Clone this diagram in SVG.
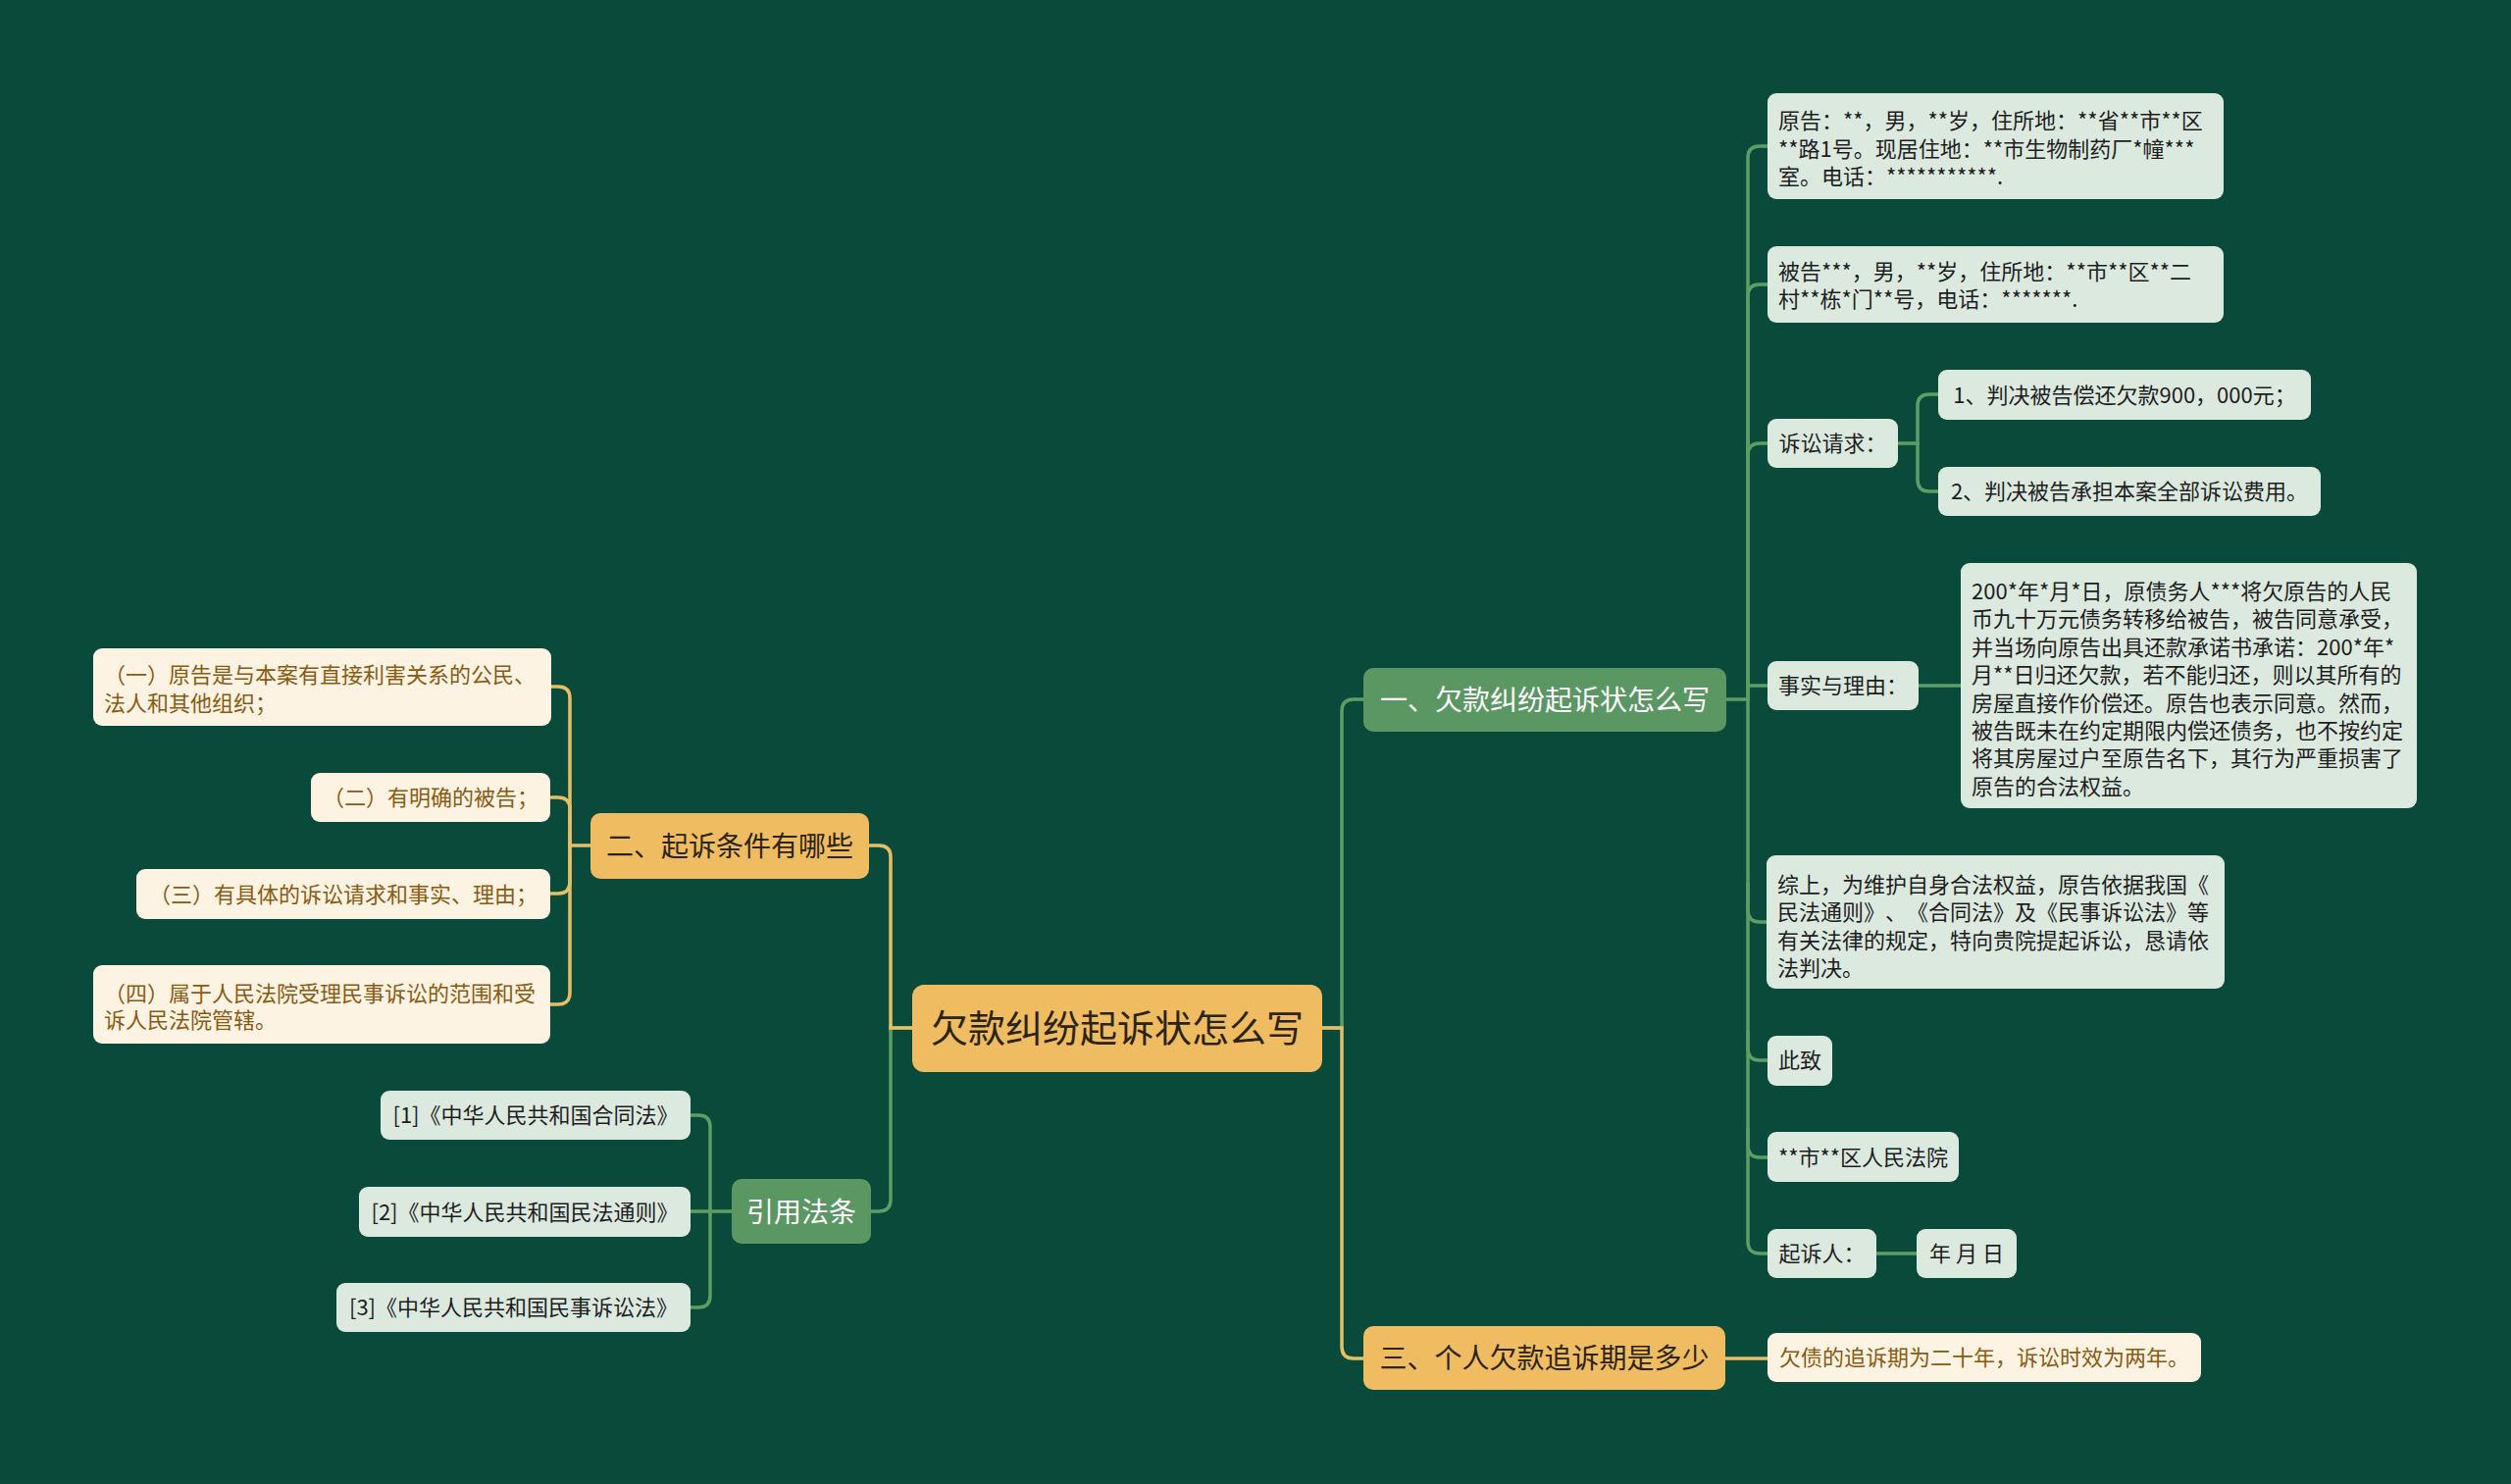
<svg xmlns="http://www.w3.org/2000/svg" width="2560" height="1513" viewBox="0 0 2560 1513">
<defs>
<style>
text{font-family:"Noto Sans CJK SC","Noto Sans",sans-serif;text-spacing-trim:space-all;}
.bg{fill:#094A3A;}
.root rect{fill:#EFBC62;}
.root text{fill:#2B2412;font-size:38px;text-anchor:middle;}
.bg1 rect{fill:#5A9763;}
.bg1 text{fill:#FFFFFF;font-size:28px;text-anchor:middle;}
.bo rect{fill:#EFBC62;}
.bo text{fill:#2B2412;font-size:28px;text-anchor:middle;}
.lf rect{fill:#DCE9DF;}
.lf text{fill:#1E1E1E;font-size:22px;}
.lc rect{fill:#FCF3E3;}
.lc text{fill:#8A5A12;font-size:22px;}
.c{text-anchor:middle;}
.cg path{fill:none;stroke:#5E9E66;stroke-width:3.5;}
.co path{fill:none;stroke:#E6BE66;stroke-width:3.5;}
</style>
</defs>
<rect class="bg" x="0" y="0" width="2560" height="1513"/>

<g id="connectors">
<g class="cg">
<path d="M1348 1048 H1368 V725 Q1368 713 1380 713 H1390"/>
<path d="M1760 713 H1782 V161 Q1782 149 1794 149 H1802"/>
<path d="M1782 700 V302 Q1782 290 1794 290 H1802"/>
<path d="M1782 464 Q1782 452 1794 452 H1802"/>
<path d="M1782 699 H1802"/>
<path d="M1782 700 V928 Q1782 940 1794 940 H1801"/>
<path d="M1782 900 V1069 Q1782 1081 1794 1081 H1802"/>
<path d="M1782 1050 V1168 Q1782 1180 1794 1180 H1802"/>
<path d="M1782 1150 V1266 Q1782 1278 1794 1278 H1802"/>
<path d="M1935 452 H1955 V414 Q1955 402 1967 402 H1976"/>
<path d="M1955 452 V489 Q1955 501 1967 501 H1976"/>
<path d="M1956 699 H1999"/>
<path d="M1913 1278 H1954"/>
<path d="M930 1048 H908 V1223 Q908 1235 896 1235 H888"/>
<path d="M746 1235 H724 V1149 Q724 1137 712 1137 H704"/>
<path d="M724 1235 H704"/>
<path d="M724 1235 V1321 Q724 1333 712 1333 H704"/>
</g>
<g class="co">
<path d="M1348 1048 H1368 V1373 Q1368 1385 1380 1385 H1390"/>
<path d="M1759 1385 H1802"/>
<path d="M930 1048 H908 V874 Q908 862 896 862 H886"/>
<path d="M602 862 H581 V712 Q581 700 569 700 H562"/>
<path d="M581 862 V825 Q581 813 569 813 H561"/>
<path d="M581 862 V899 Q581 911 569 911 H561"/>
<path d="M581 862 V1012 Q581 1024 569 1024 H561"/>
</g>
</g>

<g id="root" class="root"><rect x="930" y="1004" width="418" height="89" rx="12"/><text x="1139" y="1062">欠款纠纷起诉状怎么写</text></g>

<g id="b1" class="bg1"><rect x="1390" y="681" width="370" height="65" rx="10"/><text x="1575" y="724">一、欠款纠纷起诉状怎么写</text></g>
<g id="b2" class="bo"><rect x="602" y="829" width="284" height="67" rx="10"/><text x="744" y="873">二、起诉条件有哪些</text></g>
<g id="b3" class="bo"><rect x="1390" y="1352" width="369" height="65" rx="10"/><text x="1574.5" y="1395">三、个人欠款追诉期是多少</text></g>
<g id="b4" class="bg1"><rect x="746" y="1202" width="142" height="66" rx="10"/><text x="817" y="1246">引用法条</text></g>

<g id="n-plaintiff" class="lf"><rect x="1802" y="95" width="465" height="108" rx="9"/>
<text x="1813" y="131">原告：**，男，**岁，住所地：**省**市**区</text>
<text x="1813" y="159.5">**路1号。现居住地：**市生物制药厂*幢***</text>
<text x="1813" y="188">室。电话：***********.</text></g>
<g id="n-defendant" class="lf"><rect x="1802" y="251" width="465" height="78" rx="9"/>
<text x="1813" y="285">被告***，男，**岁，住所地：**市**区**二</text>
<text x="1813" y="313">村**栋*门**号，电话：*******.</text></g>
<g id="n-claim" class="lf"><rect x="1802" y="427" width="133" height="50" rx="9"/><text class="c" x="1868.5" y="460">诉讼请求：</text></g>
<g id="n-claim1" class="lf"><rect x="1976" y="377" width="380" height="51" rx="9"/><text class="c" x="2166" y="411">1、判决被告偿还欠款900，000元；</text></g>
<g id="n-claim2" class="lf"><rect x="1976" y="476" width="390" height="50" rx="9"/><text class="c" x="2171" y="509">2、判决被告承担本案全部诉讼费用。</text></g>
<g id="n-facts" class="lf"><rect x="1802" y="674" width="154" height="50" rx="9"/><text class="c" x="1879" y="707">事实与理由：</text></g>
<g id="n-facts-text" class="lf"><rect x="1999" y="574" width="465" height="250" rx="9"/>
<text x="2010" y="611">200*年*月*日，原债务人***将欠原告的人民</text>
<text x="2010" y="639.4">币九十万元债务转移给被告，被告同意承受，</text>
<text x="2010" y="667.8">并当场向原告出具还款承诺书承诺：200*年*</text>
<text x="2010" y="696.2">月**日归还欠款，若不能归还，则以其所有的</text>
<text x="2010" y="724.6">房屋直接作价偿还。原告也表示同意。然而，</text>
<text x="2010" y="753">被告既未在约定期限内偿还债务，也不按约定</text>
<text x="2010" y="781.4">将其房屋过户至原告名下，其行为严重损害了</text>
<text x="2010" y="809.8">原告的合法权益。</text></g>
<g id="n-summary" class="lf"><rect x="1801" y="872" width="467" height="136" rx="9"/>
<text x="1812" y="910">综上，为维护自身合法权益，原告依据我国《</text>
<text x="1812" y="938.4">民法通则》、《合同法》及《民事诉讼法》等</text>
<text x="1812" y="966.8">有关法律的规定，特向贵院提起诉讼，恳请依</text>
<text x="1812" y="995.2">法判决。</text></g>
<g id="n-cizhi" class="lf"><rect x="1802" y="1056" width="66" height="51" rx="9"/><text class="c" x="1835" y="1089">此致</text></g>
<g id="n-court" class="lf"><rect x="1802" y="1154" width="195" height="51" rx="9"/><text class="c" x="1899.5" y="1188">**市**区人民法院</text></g>
<g id="n-filer" class="lf"><rect x="1802" y="1253" width="111" height="50" rx="9"/><text class="c" x="1857.5" y="1286">起诉人：</text></g>
<g id="n-date" class="lf"><rect x="1954" y="1253" width="102" height="50" rx="9"/><text class="c" x="2005" y="1286">年 月 日</text></g>
<g id="n-period" class="lc"><rect x="1802" y="1359" width="442" height="50" rx="9"/><text class="c" x="2023" y="1392">欠债的追诉期为二十年，诉讼时效为两年。</text></g>

<g id="n-cond1" class="lc"><rect x="95" y="661" width="467" height="79" rx="9"/>
<text x="106" y="696">（一）原告是与本案有直接利害关系的公民、</text>
<text x="106" y="725">法人和其他组织；</text></g>
<g id="n-cond2" class="lc"><rect x="317" y="788" width="244" height="50" rx="9"/><text class="c" x="439" y="821">（二）有明确的被告；</text></g>
<g id="n-cond3" class="lc"><rect x="139" y="886" width="422" height="51" rx="9"/><text class="c" x="350" y="919.5">（三）有具体的诉讼请求和事实、理由；</text></g>
<g id="n-cond4" class="lc"><rect x="95" y="984" width="466" height="80" rx="9"/>
<text x="106" y="1021">（四）属于人民法院受理民事诉讼的范围和受</text>
<text x="106" y="1048">诉人民法院管辖。</text></g>

<g id="n-law1" class="lf"><rect x="388" y="1112" width="316" height="50" rx="9"/><text class="c" x="546" y="1145">[1]《中华人民共和国合同法》</text></g>
<g id="n-law2" class="lf"><rect x="366" y="1210" width="338" height="51" rx="9"/><text class="c" x="535" y="1243.5">[2]《中华人民共和国民法通则》</text></g>
<g id="n-law3" class="lf"><rect x="343" y="1308" width="361" height="50" rx="9"/><text class="c" x="523.5" y="1341">[3]《中华人民共和国民事诉讼法》</text></g>
</svg>
